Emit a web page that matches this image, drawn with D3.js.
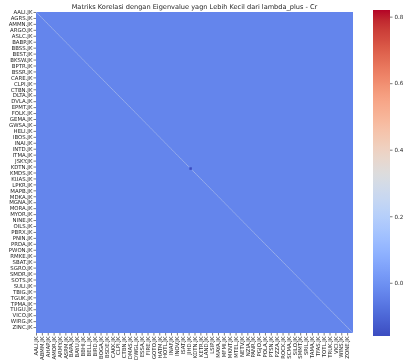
<!DOCTYPE html>
<html>
<head>
<meta charset="utf-8">
<script src="https://cdn.jsdelivr.net/npm/d3@7"></script>
<style>
  body { margin: 0; background: #fff; }
  #wrap { position: relative; width: 409px; height: 361px; overflow: hidden; }
  #wrap canvas, #wrap svg { position: absolute; left: 0; top: 0; }
  text { font-family: "DejaVu Sans", sans-serif; fill: #262626; }
</style>
</head>
<body>
<div id="wrap">
  <canvas id="cells" width="409" height="361"></canvas>
  <svg id="chart" width="409" height="361"></svg>
</div>
<script>
// ---- data ---------------------------------------------------------------
const chartTitle = "Matriks Korelasi dengan Eigenvalue yagn Lebih Kecil dari lambda_plus - Cr";

// number of stocks in the (square) correlation matrix
const stockCount = 810;

// labelled rows (every rowTickStep-th stock) and labelled columns
const rowTickers = ["AALI","AGRS","AMMN","ARGO","ASLC","BABP","BBSS","BEST","BKSW","BPTR",
  "BSSR","CARE","CLPI","CTBN","DLTA","DVLA","EPMT","FOLK","GEMA","GWSA","HELI","IBOS","INAI",
  "INTD","ITMA","JSKY","KDTN","KMDS","KUAS","LPKR","MAPB","MDKA","MGNA","MORA","MYOR","NINE",
  "OILS","PBRX","PNIN","PRDA","PWON","RMKE","SBAT","SGRO","SMDR","SOTS","SULI","TBIG","TGUK",
  "TPMA","TUGU","VICO","WIRG","ZINC"];
const colTickers = ["AALI","ABMM","AHAP","AMOR","ARMY","ASRM","BAPA","BAYU","BBHI","BELL",
  "BIRD","BOGA","BSDE","CAKK","CLPI","CTBN","DMAS","DWGL","ESSA","FIRE","GOTO","HATM","HOTL",
  "INAF","INOV","ISAT","JIHD","KDTN","KETR","LAND","LSIP","MAYA","MFMI","MKNT","MTEL","NETV",
  "NZIA","PANR","PGJO","POLA","PTSN","PZZA","ROCK","SCMA","SILO","SMMT","SRIL","TAMA","TFAS",
  "TOTL","TRUK","VICI","WINS","ZONE"];
const rowTickStep = 15;
const colTickStep = 15;
const tickerSuffix = ".JK";

// cell values of the random-part correlation matrix
const offDiagonalValue = -0.03;
const diagonalValue = 0.3;
// a small block of strongly negative cells sitting on the diagonal
const lowBlock = { from: 392, to: 397, value: -0.16 };

// colour limits and colourbar ticks
const colorLimits = [-0.16, 0.82];
const colorbarTicks = [0.0, 0.2, 0.4, 0.6, 0.8];

// coolwarm colormap stops
const coolwarmStops = ["#3b4cc0","#445acc","#4d68d7","#5775e1","#6282ea","#6c8ff1","#779af7",
  "#82a5fb","#8db0fe","#98b9ff","#a3c2fe","#aec9fc","#b8d0f9","#c2d5f4","#cbd8ee","#d4dbe6",
  "#dddcdc","#e5d8d1","#ecd3c5","#f1ccb8","#f5c4ac","#f7ba9f","#f7b093","#f7a688","#f49a7b",
  "#f08b6e","#eb7d62","#e46e56","#dd5f4b","#d44e41","#cb3e38","#c0282f","#b40426"];

// ---- layout -------------------------------------------------------------
const plot = { left: 36, top: 12, right: 353, bottom: 333 };
const cbar = { left: 373, right: 390, top: 10, bottom: 336 };

const indices = d3.range(stockCount);
const x = d3.scaleBand().domain(indices).range([plot.left, plot.right]);
const y = d3.scaleBand().domain(indices).range([plot.top, plot.bottom]);

const color = d3.scaleSequential(d3.piecewise(d3.interpolateRgb, coolwarmStops))
  .domain(colorLimits).clamp(true);

// ---- heatmap cells (rasterised) ----------------------------------------
function cellValue(r, c) {
  const inBlock = r >= lowBlock.from && r <= lowBlock.to && c >= lowBlock.from && c <= lowBlock.to;
  if (inBlock) return lowBlock.value;
  return r === c ? diagonalValue : offDiagonalValue;
}

const off = document.createElement("canvas");
off.width = stockCount; off.height = stockCount;
const octx = off.getContext("2d");
const img = octx.createImageData(stockCount, stockCount);
const rgbCache = new Map();
function rgbOf(v) {
  if (!rgbCache.has(v)) {
    const c = d3.rgb(color(v));
    rgbCache.set(v, [c.r, c.g, c.b]);
  }
  return rgbCache.get(v);
}
for (let r = 0; r < stockCount; r++) {
  for (let c = 0; c < stockCount; c++) {
    const [R, G, B] = rgbOf(cellValue(r, c));
    const k = (r * stockCount + c) * 4;
    img.data[k] = R; img.data[k + 1] = G; img.data[k + 2] = B; img.data[k + 3] = 255;
  }
}
octx.putImageData(img, 0, 0);

const ctx = document.getElementById("cells").getContext("2d");
ctx.imageSmoothingEnabled = true;
ctx.imageSmoothingQuality = "high";
ctx.drawImage(off, x(0), y(0), x.bandwidth() * stockCount, y.bandwidth() * stockCount);

// ---- axes ---------------------------------------------------------------
const svg = d3.select("#chart");

svg.append("text")
  .attr("x", (plot.left + plot.right) / 2)
  .attr("y", 8.5)
  .attr("text-anchor", "middle")
  .style("font-size", "6.6px")
  .text(chartTitle);

const rowTicks = rowTickers.map((t, i) => ({ index: i * rowTickStep, label: t + tickerSuffix }));
const colTicks = colTickers.map((t, i) => ({ index: i * colTickStep, label: t + tickerSuffix }));
const rowLabel = new Map(rowTicks.map(d => [d.index, d.label]));
const colLabel = new Map(colTicks.map(d => [d.index, d.label]));

const yAxis = svg.append("g")
  .attr("transform", `translate(${plot.left},0)`)
  .call(d3.axisLeft(y).tickValues(rowTicks.map(d => d.index))
    .tickFormat(i => rowLabel.get(i)).tickSize(2.5).tickPadding(1));
yAxis.select(".domain").remove();
yAxis.selectAll("line").attr("stroke", "#262626").attr("stroke-width", 0.6);
yAxis.selectAll("text").style("font-size", "5.4px").attr("font-family", null);

const xAxis = svg.append("g")
  .attr("transform", `translate(0,${plot.bottom})`)
  .call(d3.axisBottom(x).tickValues(colTicks.map(d => d.index))
    .tickFormat(i => colLabel.get(i)).tickSize(2.5).tickPadding(1));
xAxis.select(".domain").remove();
xAxis.selectAll("line").attr("stroke", "#262626").attr("stroke-width", 0.6);
xAxis.selectAll("text")
  .style("font-size", "5.4px")
  .attr("font-family", null)
  .attr("transform", "rotate(-90)")
  .attr("x", -3.5)
  .attr("y", 0)
  .attr("dy", "0.32em")
  .style("text-anchor", "end");

// ---- colourbar ----------------------------------------------------------
const cScale = d3.scaleLinear().domain(colorLimits).range([cbar.bottom, cbar.top]);
const grad = svg.append("defs").append("linearGradient")
  .attr("id", "cbarGrad").attr("x1", 0).attr("y1", 1).attr("x2", 0).attr("y2", 0);
d3.range(0, 1.0001, 1 / 64).forEach(f => {
  const v = colorLimits[0] + f * (colorLimits[1] - colorLimits[0]);
  grad.append("stop").attr("offset", f).attr("stop-color", color(v));
});
svg.append("rect")
  .attr("x", cbar.left).attr("y", cbar.top)
  .attr("width", cbar.right - cbar.left).attr("height", cbar.bottom - cbar.top)
  .attr("fill", "url(#cbarGrad)");

const cAxis = svg.append("g")
  .attr("transform", `translate(${cbar.right},0)`)
  .call(d3.axisRight(cScale).tickValues(colorbarTicks).tickFormat(d3.format(".1f"))
    .tickSize(2.5).tickPadding(2));
cAxis.select(".domain").remove();
cAxis.selectAll("line").attr("stroke", "#262626").attr("stroke-width", 0.6);
cAxis.selectAll("text").style("font-size", "5.6px").attr("font-family", null);
</script>
</body>
</html>
